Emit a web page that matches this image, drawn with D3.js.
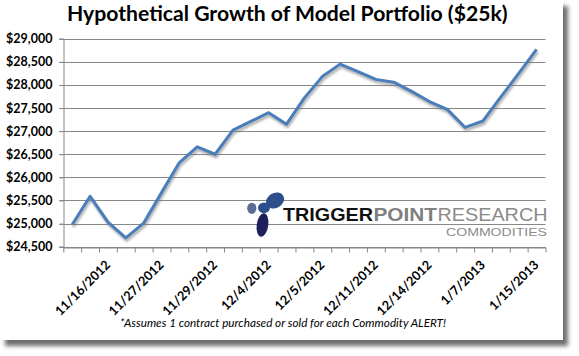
<!DOCTYPE html>
<html><head><meta charset="utf-8">
<script src="https://cdn.jsdelivr.net/npm/d3@7/dist/d3.min.js"></script>
<style>
html,body{margin:0;padding:0;background:#fff;}
svg{display:block;}
</style></head>
<body>
<svg id="chart" width="579" height="356"></svg>
<script>
// ---- data ----
const title = "Hypothetical Growth of Model Portfolio ($25k)";
const footnote = "*Assumes 1 contract purchased or sold for each Commodity ALERT!";
const categories = ["11/14/2012","11/15/2012","11/16/2012","11/19/2012","11/20/2012","11/27/2012",
  "11/28/2012","11/28/2012","11/29/2012","11/30/2012","12/3/2012","12/4/2012","12/4/2012","12/5/2012",
  "12/5/2012","12/6/2012","12/10/2012","12/11/2012","12/12/2012","12/13/2012","12/14/2012","12/18/2012",
  "1/3/2013","1/7/2013","1/9/2013","1/11/2013","1/15/2013"];
const labelEvery = 3, labelOffset = 2;
const values = [24980,25590,25030,24690,25010,25670,26320,26660,26500,27020,27210,27400,27150,27720,
  28180,28450,28290,28120,28060,27860,27640,27470,27080,27220,27740,28250,28770];
const yTicks = [24500,25000,25500,26000,26500,27000,27500,28000,28500,29000];
const yDomain = [24500,29000];

// ---- layout ----
const svg = d3.select("#chart");
const X0 = 63.3, X1 = 545.5, Y0 = 246.7, Y1 = 38.7;
const n = values.length;

const defs = svg.append("defs");
const f1 = defs.append("filter").attr("id","boxShadow").attr("x","-5%").attr("y","-5%").attr("width","115%").attr("height","115%");
f1.append("feGaussianBlur").attr("stdDeviation",2.2);
const f2 = defs.append("filter").attr("id","lineShadow").attr("x","-5%").attr("y","-10%").attr("width","110%").attr("height","130%");
f2.append("feGaussianBlur").attr("stdDeviation",1.3);

// frame with shadow
svg.append("rect").attr("x",5).attr("y",6).attr("width",563).attr("height",340)
  .attr("fill","#6e6e6e").attr("filter","url(#boxShadow)");
svg.append("rect").attr("x",0).attr("y",0).attr("width",563).attr("height",340).attr("fill","#fff");

const x = d3.scaleBand().domain(d3.range(n)).range([X0,X1]);
const xi = d3.scaleLinear().domain([0,n]).range([X0,X1]);
const y = d3.scaleLinear().domain(yDomain).range([Y0,Y1]);

// gridlines
svg.append("g").selectAll("line").data(yTicks).join("line")
  .attr("x1",X0-4).attr("x2",X1).attr("y1",d=>Math.round(y(d))+0.5).attr("y2",d=>Math.round(y(d))+0.5)
  .attr("stroke","#878787").attr("stroke-width",1);

// y axis
const yAxis = svg.append("g").attr("transform",`translate(${X0},0)`)
  .call(d3.axisLeft(y).tickValues(yTicks).tickSize(4).tickPadding(7).tickFormat(d=>"$"+d3.format(",")(d)));
yAxis.select(".domain").attr("stroke","#878787");
yAxis.selectAll(".tick line").attr("stroke","#878787");
yAxis.selectAll("text").attr("font-family","Lato, 'Open Sans', sans-serif").attr("font-weight","bold")
  .attr("font-size","12.5px").attr("fill","#000");
yAxis.attr("transform",`translate(${Math.round(X0)+0.5},0)`);

// x axis
const xAxis = svg.append("g").attr("transform",`translate(0,${Math.round(Y0)+0.5})`)
  .call(d3.axisBottom(xi).tickValues(d3.range(n+1)).tickSize(5).tickSizeOuter(0).tickFormat(""));
xAxis.select(".domain").attr("stroke","#878787");
xAxis.selectAll(".tick line").attr("stroke","#878787");

// x labels
svg.append("g").selectAll("text").data(d3.range(n).filter(i=>i%labelEvery===labelOffset)).join("text")
  .attr("transform",i=>`translate(${x(i)+x.bandwidth()/2+3},${Y0+19}) rotate(-45)`)
  .attr("text-anchor","end")
  .attr("font-family","Lato, 'Open Sans', sans-serif").attr("font-weight","bold").attr("font-size","12.8px")
  .attr("fill","#000").text(i=>categories[i]);

// logo
const logo = svg.append("g");
logo.append("ellipse").attr("cx",251.8).attr("cy",208.3).attr("rx",4.6).attr("ry",5.6).attr("fill","#5b6d92");
logo.append("ellipse").attr("cx",275).attr("cy",200.5).attr("rx",9.6).attr("ry",7.4)
  .attr("transform","rotate(-30 275 200.5)").attr("fill","#2d4f8b");
logo.append("ellipse").attr("cx",264).attr("cy",207.8).attr("rx",6).attr("ry",5.4).attr("fill","#2d4f8b");
logo.append("ellipse").attr("cx",262.5).attr("cy",225).attr("rx",5.8).attr("ry",11.8)
  .attr("transform","rotate(8 262.5 225)").attr("fill","#1e1f5c");
const logoTexts = [
  {t:"TRIGGER", x0:283, x1:373, fill:"#111", w:"bold"},
  {t:"POINT", x0:373.5, x1:437, fill:"#7f7f7f", w:"bold"},
  {t:"RESEARCH", x0:437.5, x1:547.5, fill:"#8a8a8a", w:"normal"}
];
logoTexts.forEach(d=>{
  logo.append("text").attr("x",d.x0).attr("y",221.3).attr("font-family","'Liberation Sans', Arial, sans-serif")
    .attr("font-weight",d.w).attr("font-size","18px").attr("fill",d.fill)
    .attr("textLength",d.x1-d.x0).attr("lengthAdjust","spacingAndGlyphs").text(d.t);
});
logo.append("text").attr("x",446).attr("y",235.5).attr("font-family","'Liberation Sans', Arial, sans-serif")
  .attr("font-size","10.5px").attr("fill","#8a8a8a").attr("textLength",101).attr("lengthAdjust","spacingAndGlyphs")
  .text("COMMODITIES");

// line with shadow
const line = d3.line().x((d,i)=>x(i)+x.bandwidth()/2).y(d=>y(d));
svg.append("path").datum(values).attr("d",line).attr("fill","none").attr("stroke","#7c7c7c")
  .attr("stroke-width",3).attr("opacity",0.6).attr("transform","translate(1,2.5)").attr("filter","url(#lineShadow)")
  .attr("stroke-linejoin","round");
svg.append("path").datum(values).attr("d",line).attr("fill","none").attr("stroke","#4a7ebb")
  .attr("stroke-width",3).attr("stroke-linejoin","round");

// title
const tt = svg.append("text").attr("x",67).attr("y",21).attr("font-family","Lato, 'Open Sans', sans-serif")
  .attr("font-weight","bold").attr("font-size","20px").attr("fill","#000").text(title);
{ const w = tt.node().getComputedTextLength(); tt.attr("font-size",(20*441/w)+"px"); }

// footnote
const fn = svg.append("text").attr("x",120).attr("y",326.5).attr("font-family","Lato, 'Open Sans', sans-serif")
  .attr("font-style","italic").attr("font-size","11px").attr("fill","#000").text(footnote);
{ const w = fn.node().getComputedTextLength(); fn.attr("font-size",(11*326/w)+"px"); }
</script>
</body></html>
